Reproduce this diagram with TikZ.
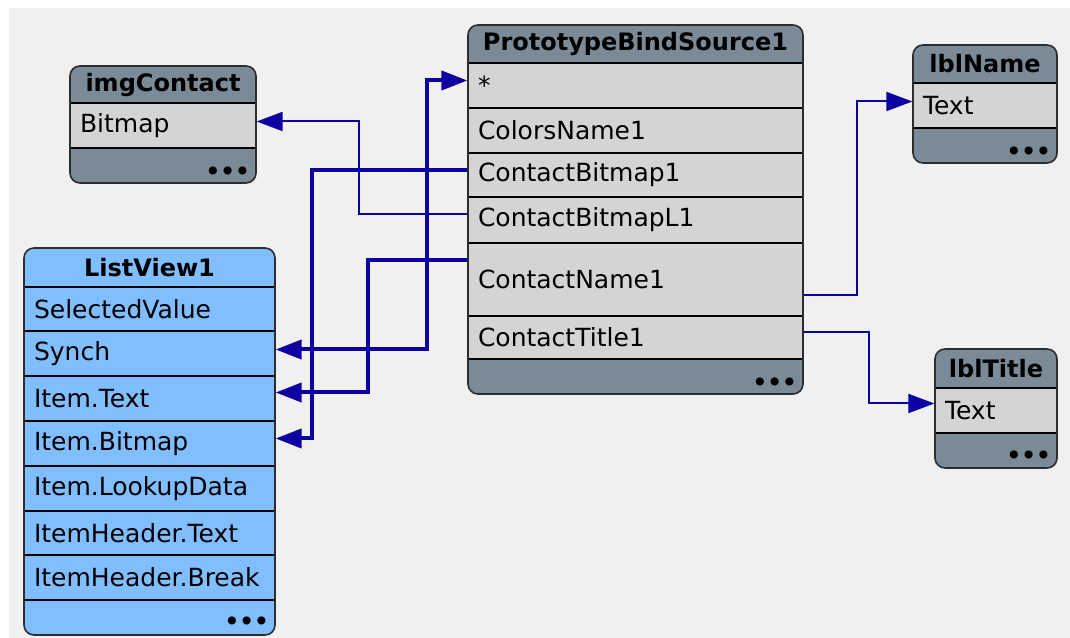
\documentclass[tikz,border=0pt]{standalone}
\usepackage{fontspec}
\setmainfont{DejaVu Sans}
\usetikzlibrary{arrows.meta}
\definecolor{canvas}{RGB}{240,240,240}
\definecolor{headcol}{RGB}{122,139,151}
\definecolor{rowcol}{RGB}{212,212,212}
\definecolor{listcol}{RGB}{128,190,255}
\definecolor{wirecol}{RGB}{14,0,160}
\definecolor{edgecol}{RGB}{45,45,45}
\begin{document}
\begin{tikzpicture}[>={Triangle[length=26bp,width=19bp]},line join=miter,
  frame/.style={draw=edgecol,line width=1.6bp,rounded corners=10bp},
  field/.style={draw=black,line width=1.3bp,fill=rowcol,inner xsep=10bp,inner ysep=2bp,
    align=left,font=\fontsize{25bp}{30bp}\selectfont},
  title/.style={font=\bfseries\fontsize{24bp}{28bp}\selectfont},
  dots/.style={anchor=east,inner sep=0pt,font=\bfseries\fontsize{23bp}{26bp}\selectfont},
  wide/.style={draw=wirecol,line width=4bp},
  slim/.style={draw=wirecol,line width=2bp}]
  \useasboundingbox (0bp,0bp) rectangle (1070bp,638bp);
  \fill[white] (0bp,0bp) rectangle (1070bp,638bp);
  \fill[canvas] (9bp,0bp) rectangle (1070bp,630bp);
%%
  % Node: imgContact
\begin{scope}
  \fill[headcol,rounded corners=10bp] (70bp,455bp) rectangle (256bp,572bp);
  \node[title] (img) at (163bp,553.5bp) {imgContact};
  \node[field,text width=166bp,minimum height=45bp] (img-bitmap) at (163bp,512.5bp) {Bitmap};
  \node[dots] at (250bp,465bp) {•••};
  \draw[frame] (70bp,455bp) rectangle (256bp,572bp);
\end{scope}
  % Node: PrototypeBindSource1
\begin{scope}
  \fill[headcol,rounded corners=10bp] (468bp,244bp) rectangle (803bp,613bp);
  \node[title] (pbs) at (635.5bp,594bp) {PrototypeBindSource1};
  \node[field,text width=315bp,minimum height=45bp] (pbs-star) at (635.5bp,552.5bp) {*};
  \node[field,text width=315bp,minimum height=45bp] (pbs-colors) at (635.5bp,507.5bp) {ColorsName1};
  \node[field,text width=315bp,minimum height=44bp] (pbs-bmp) at (635.5bp,463bp) {ContactBitmap1};
  \node[field,text width=315bp,minimum height=46bp] (pbs-bmpl) at (635.5bp,418bp) {ContactBitmapL1};
  \node[field,text width=315bp,minimum height=73bp] (pbs-name) at (635.5bp,358.5bp) {ContactName1};
  \node[field,text width=315bp,minimum height=43bp] (pbs-title) at (635.5bp,300.5bp) {ContactTitle1};
  \node[dots] at (797bp,254bp) {•••};
  \draw[frame] (468bp,244bp) rectangle (803bp,613bp);
\end{scope}
  % Node: lblName
\begin{scope}
  \fill[headcol,rounded corners=10bp] (913bp,475bp) rectangle (1057bp,593bp);
  \node[title] (name) at (985bp,574bp) {lblName};
  \node[field,text width=124bp,minimum height=45bp] (name-text) at (985bp,532.5bp) {Text};
  \node[dots] at (1051bp,485bp) {•••};
  \draw[frame] (913bp,475bp) rectangle (1057bp,593bp);
\end{scope}
  % Node: lblTitle
\begin{scope}
  \fill[headcol,rounded corners=10bp] (935bp,170bp) rectangle (1057bp,289bp);
  \node[title] (title) at (996bp,269.5bp) {lblTitle};
  \node[field,text width=102bp,minimum height=45bp] (title-text) at (996bp,227.5bp) {Text};
  \node[dots] at (1051bp,181bp) {•••};
  \draw[frame] (935bp,170bp) rectangle (1057bp,289bp);
\end{scope}
  % Node: ListView1
\begin{scope}[field/.append style={fill=listcol,text width=231bp,minimum height=45bp}]
  \fill[listcol,rounded corners=10bp] (24bp,3bp) rectangle (275bp,390bp);
  \node[title] (lv) at (149.5bp,370.5bp) {ListView1};
  \node[field,minimum height=44bp] (lv-selected) at (149.5bp,329bp) {SelectedValue};
  \node[field] (lv-synch) at (149.5bp,284.5bp) {Synch};
  \node[field] (lv-text) at (149.5bp,239.5bp) {Item.Text};
  \node[field] (lv-bitmap) at (149.5bp,194.5bp) {Item.Bitmap};
  \node[field] (lv-lookup) at (149.5bp,149.5bp) {Item.LookupData};
  \node[field,minimum height=44bp] (lv-htext) at (149.5bp,105bp) {ItemHeader.Text};
  \node[field] (lv-hbreak) at (149.5bp,60.5bp) {ItemHeader.Break};
  \node[dots] at (269bp,15bp) {•••};
  \draw[frame] (24bp,3bp) rectangle (275bp,390bp);
\end{scope}
%%
  % Edge: Synch <-> *
  \draw [wide,<->] ([yshift=4bp]lv-synch.east) -- ++(151bp,0bp) |- ([yshift=5bp]pbs-star.west);
  % Edge: ContactBitmap1 -> Item.Bitmap
  \draw [wide,->] ([yshift=5bp]pbs-bmp.west) -- ++(-155bp,0bp) |- ([yshift=5bp]lv-bitmap.east);
  % Edge: ContactBitmapL1 -> Bitmap
  \draw [slim,->] ([yshift=6bp]pbs-bmpl.west) -- ++(-108bp,0bp) |- ([yshift=4bp]img-bitmap.east);
  % Edge: ContactName1 -> Item.Text
  \draw [wide,->] ([yshift=19.5bp]pbs-name.west) -- ++(-99bp,0bp) |- ([yshift=6bp]lv-text.east);
  % Edge: ContactName1 -> lblName.Text
  \draw [slim,->] ([yshift=-15.5bp]pbs-name.east) -- ++(53bp,0bp) |- ([yshift=4bp]name-text.west);
  % Edge: ContactTitle1 -> lblTitle.Text
  \draw [slim,->] ([yshift=5bp]pbs-title.east) -- ++(65bp,0bp) |- ([yshift=7bp]title-text.west);
%
\end{tikzpicture}
\end{document}
